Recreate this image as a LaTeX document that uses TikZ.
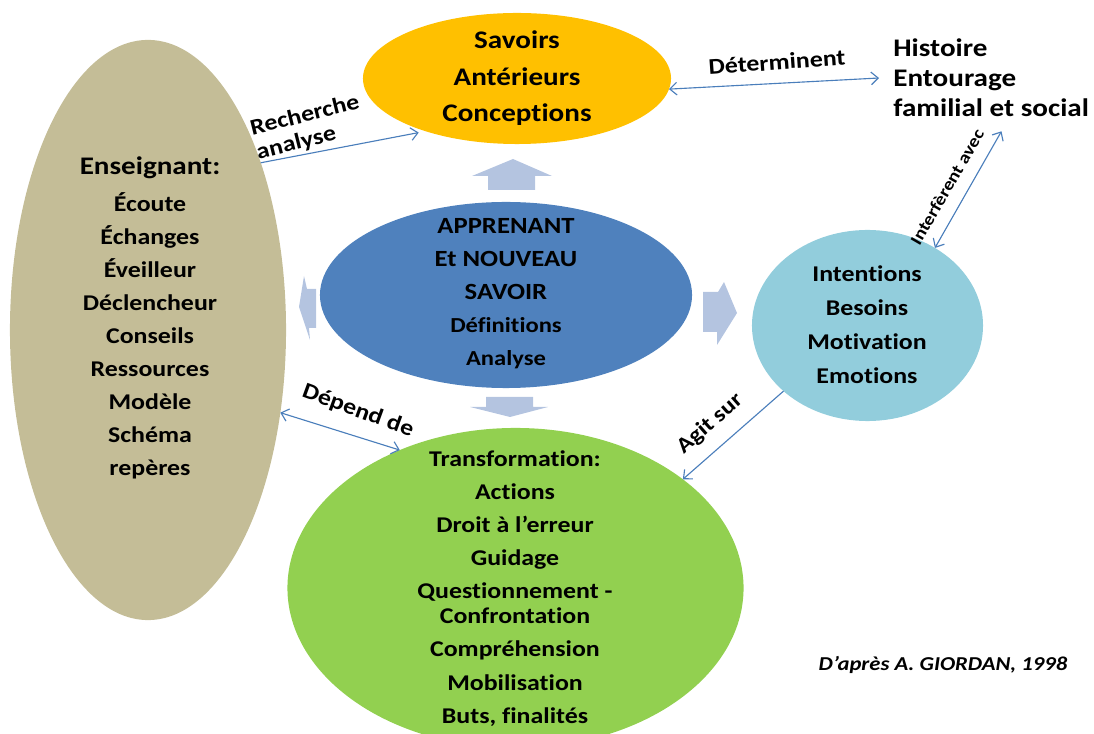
\documentclass[tikz,border=0pt]{standalone}
\usepackage{fontspec}
\setmainfont{Carlito}[FakeStretch=1.15, Ligatures=NoCommon]
\usepackage{tikz}
\usetikzlibrary{shapes.geometric, arrows.meta}

\definecolor{savoirgold}{RGB}{255,192,0}
\definecolor{enseignanttan}{RGB}{196,189,151}
\definecolor{apprenantblue}{RGB}{79,129,189}
\definecolor{intentionblue}{RGB}{146,205,220}
\definecolor{transfogreen}{RGB}{146,208,80}
\definecolor{blockgray}{RGB}{180,196,224}
\definecolor{linkblue}{RGB}{74,126,187}

\begin{document}
\begin{tikzpicture}[x=0.025cm, y=-0.025cm,
  oval/.style={ellipse, draw=none, inner sep=0pt, outer sep=0pt},
  txt/.style={align=center, inner sep=0pt, font=\bfseries\fontsize{16}{23.5}\selectfont},
  tag/.style={inner sep=0pt, font=\bfseries\fontsize{16}{17.6}\selectfont},
  link/.style={draw=linkblue, line width=0.8pt, >={Straight Barb[length=5pt,width=9pt]}},
  block/.style={fill=blockgray}]
  \useasboundingbox (0,0) rectangle (1094,734);
  % ovals
  \node (savoirs) [oval, fill=savoirgold, minimum width=7.7cm, minimum height=3.275cm] at (517,78.5) {};
  \node (enseignant) [oval, fill=enseignanttan, minimum width=6.9cm, minimum height=14.5cm] at (148,330) {};
  \node (apprenant) [oval, fill=apprenantblue, minimum width=9.3cm, minimum height=4.65cm] at (506,295) {};
  \node (intentions) [oval, fill=intentionblue, minimum width=5.775cm, minimum height=4.775cm] at (867.5,325.5) {};
  \node (transfo) [oval, fill=transfogreen, minimum width=11.4cm, minimum height=8cm] at (515.5,588) {};
  % block arrows
  \fill [block] (488,190) -- (488,176) -- (472,176) -- (513,159) -- (552,176) -- (535,176) -- (535,190) -- cycle;
  \fill [block] (486,397) -- (533,397) -- (533,407) -- (548,407) -- (510,417) -- (470,407) -- (486,407) -- cycle;
  \fill [block] (316,289) -- (307,289) -- (304,276) -- (299,307) -- (310,340) -- (309,328) -- (316,328) -- cycle;
  \fill [block] (703,292) -- (718,292) -- (724,282) -- (737,313) -- (717,345) -- (717,332) -- (703,332) -- cycle;
  % texts
  \node (savoirstxt) [txt, font=\bfseries\fontsize{18}{26}\selectfont] at (517,78.5) {Savoirs\\Antérieurs\\Conceptions};
  \node (enseignanttxt) [txt] at (150,318) {{\fontsize{18}{23.5}\selectfont Enseignant:}\\[2.8pt]
    Écoute\\Échanges\\Éveilleur\\Déclencheur\\Conseils\\Ressources\\Modèle\\Schéma\\repères};
  \node (apprenanttxt) [txt, font=\bfseries\fontsize{16.5}{23.5}\selectfont] at (506,294) {APPRENANT\\Et NOUVEAU\\SAVOIR\\
    {\fontsize{15.2}{23.5}\selectfont Définitions}\\{\fontsize{15.2}{23.5}\selectfont Analyse}};
  \node (intentionstxt) [txt, font=\bfseries\fontsize{16}{24.2}\selectfont] at (867,325) {Intentions\\Besoins\\Motivation\\Emotions};
  \node (transfotxt) [txt] at (515,588.5) {Transformation:\\Actions\\Droit à l’erreur\\Guidage\\
    Questionnement -\\[-5.7pt]Confrontation\\Compréhension\\Mobilisation\\Buts, finalités};
  \node (histoire) [anchor=west, align=left, inner xsep=10pt, inner ysep=10pt,
    font=\bfseries\fontsize{18}{21.3}\selectfont] at (879,78) {Histoire\\Entourage\\familial et social};
  % link labels
  \node (recherche) [tag, align=left, rotate=14] at (308,128) {Recherche\\analyse};
  \node (determinent) [tag, rotate=4] at (777,62) {Déterminent};
  \node (interferent) [tag, font=\bfseries\fontsize{12.2}{14}\selectfont, rotate=60] at (947,187) {Interfèrent avec};
  \node (depend) [tag, rotate=-20] at (358,411) {Dépend de};
  \node (agit) [tag, font=\bfseries\fontsize{15.5}{17}\selectfont, rotate=41.5] at (710,424) {Agit sur};
  \node (source) [font=\bfseries\itshape\fontsize{14}{16}\selectfont] at (943,665) {D’après A. GIORDAN, 1998};
  % links
  \draw [link, ->, shorten >=5pt] (enseignant.56) -- (savoirs.210);
  \draw [link, <->] (savoirs.-4) -- (histoire.west);
  \draw [link, <->] (intentions.49) -- (histoire.-79);
  \draw [link, <->] (enseignant.-32) -- (transfo.130);
  \draw [link, ->] (intentions.218) -- (transfo.33);
\end{tikzpicture}
\end{document}
